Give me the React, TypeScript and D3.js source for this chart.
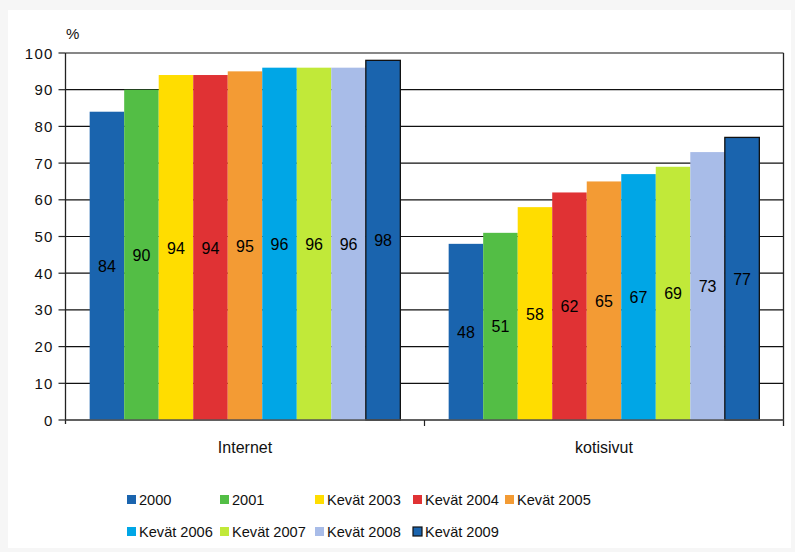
import React from "react";
import * as d3 from "d3";

const categories = ["Internet", "kotisivut"];
const seriesNames = ["2000", "2001", "Kevät 2003", "Kevät 2004", "Kevät 2005", "Kevät 2006", "Kevät 2007", "Kevät 2008", "Kevät 2009"];
const internetValues = [84, 90, 94, 94, 95, 96, 96, 96, 98];
const kotisivutValues = [48, 51, 58, 62, 65, 67, 69, 73, 77];
const seriesColors = ["#1a64ae", "#53be45", "#ffdd00", "#e03234", "#f39b34", "#00a6e6", "#c1e939", "#a8bce8", "#1a64ae"];
const yTicks = [0, 10, 20, 30, 40, 50, 60, 70, 80, 90, 100];

const W = 795, H = 552;
const left = 65.5, right = 783.5, top = 53, bottom = 420;
const FONT = "'Liberation Sans', Arial, sans-serif";

export default function App() {
  const y = d3.scaleLinear().domain([0, 100]).range([bottom, top]);
  const x0 = d3.scaleBand().domain(categories).range([left, right]).paddingInner(0).paddingOuter(0);
  const x1 = d3.scaleBand().domain(seriesNames).range([0, x0.bandwidth()]).paddingOuter(0.7).paddingInner(0);
  const values = [internetValues, kotisivutValues];

  const legendCols = [127, 220, 315, 413, 505];
  const legendRows = [496, 528];

  return (
    <svg width={W} height={H} style={{ position: "absolute", left: 0, top: 0 }} fontFamily={FONT}>
      <rect x={0} y={0} width={W} height={H} fill="#f6f6f6" />
      <rect x={8} y={10} width={783} height={538} fill="#ffffff" />
      {/* gridlines */}
      {yTicks.map((t) => (
        <line key={"g" + t} x1={left} x2={right} y1={y(t)} y2={y(t)} stroke="#111" strokeWidth={1.2} />
      ))}
      {/* bars */}
      {categories.map((c, ci) => (
        <g key={c} transform={`translate(${x0(c)},0)`}>
          {seriesNames.map((s, si) => {
            const v = values[ci][si];
            const bx = x1(s)!;
            const bw = x1.bandwidth();
            const is09 = si === 8;
            return (
              <g key={s}>
                <rect
                  x={bx}
                  y={y(v)}
                  width={bw}
                  height={bottom - y(v)}
                  fill={seriesColors[si]}
                  stroke={is09 ? "#111" : "none"}
                  strokeWidth={is09 ? 1.3 : 0}
                />
                <text x={bx + bw / 2} y={(y(v) + bottom) / 2 + 6} textAnchor="middle" fontSize={16} fill="#000">
                  {v}
                </text>
              </g>
            );
          })}
        </g>
      ))}
      {/* axes */}
      <line x1={left} x2={left} y1={top} y2={bottom + 4} stroke="#222" strokeWidth={1.3} />
      <line x1={right} x2={right} y1={top} y2={bottom + 6} stroke="#222" strokeWidth={1.3} />
      <line x1={left} x2={right} y1={bottom} y2={bottom} stroke="#555" strokeWidth={1.5} />
      {yTicks.map((t) => (
        <g key={"t" + t}>
          <line x1={left - 7} x2={left} y1={y(t)} y2={y(t)} stroke="#222" strokeWidth={1.2} />
          <text x={left - 12} y={y(t) + 5.5} textAnchor="end" fontSize={15} letterSpacing={1.2} fill="#111">
            {t}
          </text>
        </g>
      ))}
      <line x1={x0("kotisivut")!} x2={x0("kotisivut")!} y1={bottom} y2={bottom + 6} stroke="#222" strokeWidth={1.2} />
      <text x={66} y={39} fontSize={15} fill="#111">%</text>
      {categories.map((c) => (
        <text key={"c" + c} x={x0(c)! + x0.bandwidth() / 2} y={453} textAnchor="middle" fontSize={16} fill="#111">
          {c}
        </text>
      ))}
      {/* legend */}
      {seriesNames.map((s, i) => {
        const lx = legendCols[i % 5];
        const ly = legendRows[Math.floor(i / 5)];
        return (
          <g key={"l" + s}>
            <rect
              x={lx}
              y={ly - 1}
              width={9}
              height={9}
              fill={seriesColors[i]}
              stroke={i === 8 ? "#111" : "none"}
              strokeWidth={i === 8 ? 1.2 : 0}
            />
            <text x={lx + 12} y={ly + 9} fontSize={14.6} fill="#111">
              {s}
            </text>
          </g>
        );
      })}
    </svg>
  );
}
